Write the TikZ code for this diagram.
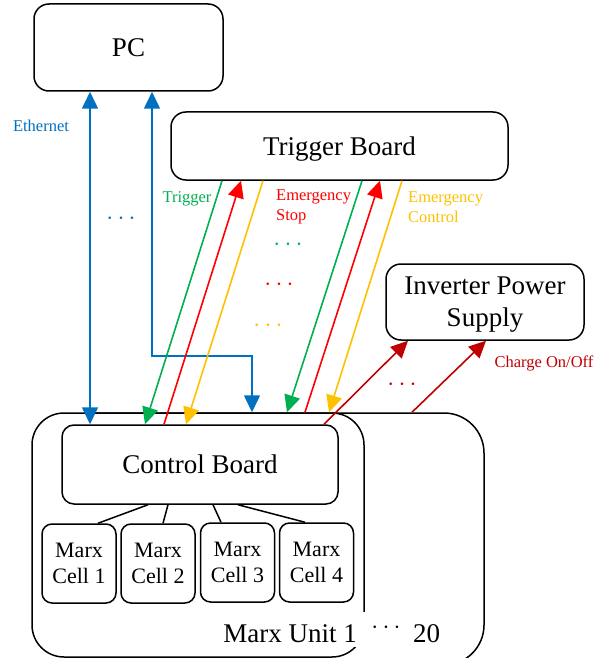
\documentclass[tikz,border=0pt]{standalone}
\usepackage{fontspec}
\setmainfont{Liberation Serif}
\usetikzlibrary{arrows.meta}
\definecolor{ethblue}{HTML}{0070C0}
\definecolor{trgreen}{HTML}{00B050}
\definecolor{esred}{HTML}{FF0000}
\definecolor{ecyellow}{HTML}{FFC000}
\definecolor{chred}{HTML}{C00000}
\begin{document}
\begin{tikzpicture}[x=1pt,y=-1pt,
  box/.style={draw=black, line width=1.5pt, rounded corners=#1, align=center, inner sep=0pt, fill=white},
  box/.default=15pt,
  bigtxt/.style={font=\fontsize{27}{32}\selectfont},
  celltxt/.style={font=\fontsize{22}{26}\selectfont},
  smalltxt/.style={font=\fontsize{16.5}{20}\selectfont, inner sep=0pt},
  dotstxt/.style={font=\fontsize{30}{30}\selectfont, inner sep=0pt},
  sig/.style={line width=1.6pt, draw=#1},
  tip/.style={-{Triangle[length=17pt,width=16pt]}},
  twotip/.style={{Triangle[length=17pt,width=16pt]}-{Triangle[length=17pt,width=16pt]}},
  link/.style={line width=1.5pt, draw=black}
]
\useasboundingbox (0,0) rectangle (606,658);
\clip (0,0) rectangle (606,658);

% Marx units (back then front)
\node[box=40pt, minimum width=424pt, minimum height=252pt] (mu2) at (272,539) {};
\node[box=32pt, minimum width=332pt, minimum height=244pt] (mu) at (198,535) {};

% main boxes
\node[box, bigtxt, minimum width=189pt, minimum height=87pt] (pc) at (128.5,47.5) {PC};
\node[box, bigtxt, text depth=0pt, minimum width=337pt, minimum height=68pt] (tb) at (339.5,146) {Trigger Board};
\node[box, bigtxt, text depth=0pt, minimum width=198pt, minimum height=76pt] (inv) at (485,302) {Inverter Power\\Supply};
\node[box=12pt, bigtxt, minimum width=276pt, minimum height=79pt] (cb) at (200,464.5) {Control Board};

% Marx cells
\node[box=10pt, celltxt, minimum width=74pt, minimum height=79pt] (c1) at (79,563.5) {Marx\\Cell 1};
\node[box=10pt, celltxt, minimum width=74pt, minimum height=79pt] (c2) at (158,563.5) {Marx\\Cell 2};
\node[box=10pt, celltxt, minimum width=74pt, minimum height=79pt] (c3) at (237.5,562.5) {Marx\\Cell 3};
\node[box=10pt, celltxt, minimum width=74pt, minimum height=79pt] (c4) at (316.5,562.5) {Marx\\Cell 4};

\draw[link] ([xshift=-52pt]cb.south) -- ([xshift=19pt]c1.north);
\draw[link] ([xshift=-32pt]cb.south) -- ([xshift=5pt]c2.north);
\draw[link] ([xshift=13pt]cb.south) -- ([xshift=-16.5pt]c3.north);
\draw[link] ([xshift=38pt]cb.south) -- ([xshift=-11.5pt]c4.north);

% Marx unit label
\node[bigtxt, fill=white, inner xsep=9pt, inner ysep=0pt, text height=30pt, text depth=5pt, anchor=base east] (mulab) at (366,642) {Marx Unit 1};
\node[dotstxt] (mudots) at (386,628) {$\cdots$};
\node[bigtxt, inner sep=0pt, anchor=base west] (mu20) at (413,642) {20};

% Ethernet
\coordinate (e2) at (252,356);
\draw[sig=ethblue, twotip] ([xshift=-38.5pt]pc.south) -- ([xshift=-38.5pt]pc.south |- cb.north);
\draw[sig=ethblue, twotip] ([xshift=23.5pt]pc.south) |- (e2) -- (e2 |- mu.north);
\node[smalltxt, text=ethblue] (ethlab) at (41,126) {Ethernet};
\node[dotstxt, text=ethblue] (ethdots) at (121,219) {$\cdots$};

% Trigger / emergency signals, group 1
\draw[sig=trgreen, tip] ([xshift=-117.5pt]tb.south) -- ([xshift=-55pt]cb.north);
\draw[sig=esred, tip] ([xshift=-36pt]cb.north) -- ([xshift=-98.5pt]tb.south);
\draw[sig=ecyellow, tip] ([xshift=-76.5pt]tb.south) -- ([xshift=-14pt]cb.north);
% group 2
\draw[sig=trgreen, tip] ([xshift=22.5pt]tb.south) -- ([xshift=89pt]mu.north);
\draw[sig=esred, tip] ([xshift=107pt]mu.north) -- ([xshift=40.5pt]tb.south);
\draw[sig=ecyellow, tip] ([xshift=62.5pt]tb.south) -- ([xshift=131pt]mu.north);

\node[smalltxt, text=trgreen] (trlab) at (187,199) {Trigger};
\node[smalltxt, text=esred, align=left, anchor=west] (eslab) at (276,207) {Emergency\\Stop};
\node[smalltxt, text=ecyellow, align=left, anchor=west] (eclab) at (408,207) {Emergency\\Control};
\node[dotstxt, text=trgreen] (gdots) at (288,245) {$\cdots$};
\node[dotstxt, text=esred] (rdots) at (279,285) {$\cdots$};
\node[dotstxt, text=ecyellow] (ydots) at (268,326) {$\cdots$};

% Charge on/off
\draw[sig=chred, tip] ([xshift=124pt]cb.north) -- ([xshift=-77pt]inv.south);
\draw[sig=chred, tip] ([xshift=140pt]mu2.north) -- ([xshift=1pt]inv.south);
\node[dotstxt, text=chred] (cdots) at (402,385) {$\cdots$};
\node[smalltxt, text=chred] (chlab) at (544,363) {Charge On/Off};
\end{tikzpicture}
\end{document}
